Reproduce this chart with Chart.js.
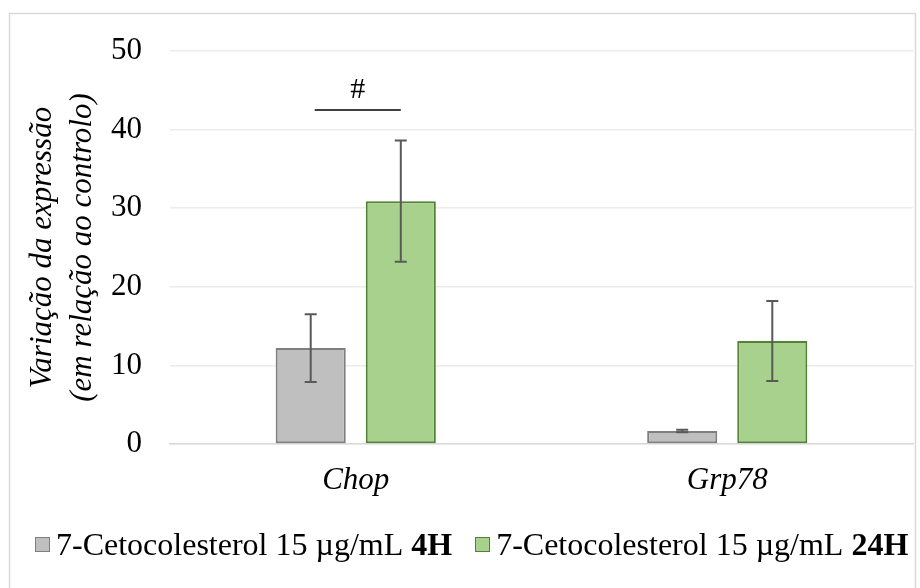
<!DOCTYPE html>
<html>
<head>
<meta charset="utf-8">
<script src="https://cdn.jsdelivr.net/npm/chart.js@4"></script>
<style>
    body { margin: 0; background: #fff; }
    #wrap { position: relative; width: 920px; height: 588px; }
    #legend {
        position: absolute; left: 35px; top: 526px; width: 885px;
        display: flex; align-items: center;
        font-family: "Liberation Serif", "Times New Roman", serif; font-size: 32px; color: #000;
    }
    .item { display: flex; align-items: center; margin-right: 23px; white-space: nowrap; }
    .box { width: 13px; height: 13px; border: 1.5px solid; margin-right: 6px; }
</style>
</head>
<body>
<div id="wrap">
    <canvas id="geneChart" width="920" height="588"></canvas>
    <div id="legend">
        <div class="item"><span class="box" style="background:#bfbfbf;border-color:#7f7f7f"></span>7-Cetocolesterol 15 µg/mL&nbsp;<b>4H</b></div>
        <div class="item"><span class="box" style="background:#a9d18e;border-color:#538135"></span>7-Cetocolesterol 15 µg/mL&nbsp;<b>24H</b></div>
    </div>
</div>
<script>
var genes = ['Chop', 'Grp78'];
var mean4h = [12.2, 1.65];
var mean24h = [30.9, 13.1];
var err4h = [4.3, 0.15];
var err24h = [7.7, 5.1];
var yTicks = [0, 10, 20, 30, 40, 50];

var serif = '"Liberation Serif", "Times New Roman", serif';

// frame round the whole figure
var framePlugin = {
    id: 'frame',
    beforeDraw: function(chart) {
        var ctx = chart.ctx;
        ctx.save();
        ctx.strokeStyle = '#d9d9d9';
        ctx.lineWidth = 1.5;
        ctx.strokeRect(9.5, 13.5, 906, 590);
        ctx.restore();
    }
};

// error bars + the "#" mark over Chop
var errorPlugin = {
    id: 'errorBars',
    afterDatasetsDraw: function(chart) {
        var ctx = chart.ctx;
        var y = chart.scales.y;
        var errs = [err4h, err24h];
        ctx.save();
        ctx.strokeStyle = '#595959';
        ctx.lineWidth = 2;
        chart.data.datasets.forEach(function(ds, di) {
            var meta = chart.getDatasetMeta(di);
            meta.data.forEach(function(bar, i) {
                var v = ds.data[i];
                var top = y.getPixelForValue(v + errs[di][i]);
                var bot = y.getPixelForValue(v - errs[di][i]);
                ctx.beginPath();
                ctx.moveTo(bar.x, top); ctx.lineTo(bar.x, bot);
                ctx.moveTo(bar.x - 6, top); ctx.lineTo(bar.x + 6, top);
                ctx.moveTo(bar.x - 6, bot); ctx.lineTo(bar.x + 6, bot);
                ctx.stroke();
            });
        });

        var b0 = chart.getDatasetMeta(0).data[0];
        var b1 = chart.getDatasetMeta(1).data[0];
        var ly = y.getPixelForValue(42.5);
        ctx.strokeStyle = '#000';
        ctx.lineWidth = 1.5;
        ctx.beginPath();
        ctx.moveTo(b0.x + 4, ly); ctx.lineTo(b1.x, ly);
        ctx.stroke();
        ctx.fillStyle = '#000';
        ctx.font = '30px ' + serif;
        ctx.textAlign = 'center';
        ctx.textBaseline = 'bottom';
        ctx.fillText('#', (b0.x + 4 + b1.x) / 2, ly - 5);
        ctx.restore();
    }
};

var ctx = document.getElementById('geneChart').getContext('2d');
var geneChart = new Chart(ctx, {
    type: 'bar',
    data: {
        labels: genes,
        datasets: [{
            label: '7-Cetocolesterol 15 µg/mL 4H',
            data: mean4h,
            backgroundColor: '#bfbfbf',
            borderColor: '#7f7f7f',
            borderWidth: 2,
            borderSkipped: false
        }, {
            label: '7-Cetocolesterol 15 µg/mL 24H',
            data: mean24h,
            backgroundColor: '#a9d18e',
            borderColor: '#538135',
            borderWidth: 2,
            borderSkipped: false
        }]
    },
    options: {
        responsive: false,
        animation: false,
        categoryPercentage: 0.485,
        barPercentage: 0.778,
        layout: { padding: { left: 0, right: 7, top: 51, bottom: 0 } },
        plugins: {
            legend: { display: false },
            tooltip: { enabled: false }
        },
        scales: {
            x: {
                grid: { display: false },
                border: { color: '#d9d9d9', width: 1.5 },
                ticks: {
                    color: '#000',
                    padding: 10,
                    font: { family: serif, size: 31, style: 'italic' }
                },
                afterFit: function(scale) { scale.height = 144; }
            },
            y: {
                min: 0,
                max: 50,
                afterBuildTicks: function(scale) {
                    scale.ticks = yTicks.map(function(v) { return { value: v }; });
                },
                grid: { color: '#ececec', lineWidth: 1.5, drawTicks: false },
                border: { display: false },
                ticks: {
                    color: '#000',
                    padding: 28,
                    font: { family: serif, size: 31 }
                },
                title: {
                    display: true,
                    text: ['Variação da expressão', '(em relação ao controlo)'],
                    color: '#000',
                    padding: { top: 23, bottom: 0 },
                    font: { family: serif, size: 31, style: 'italic', lineHeight: '40px' }
                },
                afterFit: function(scale) { scale.width = 170; }
            }
        }
    },
    plugins: [framePlugin, errorPlugin]
});
</script>
</body>
</html>
